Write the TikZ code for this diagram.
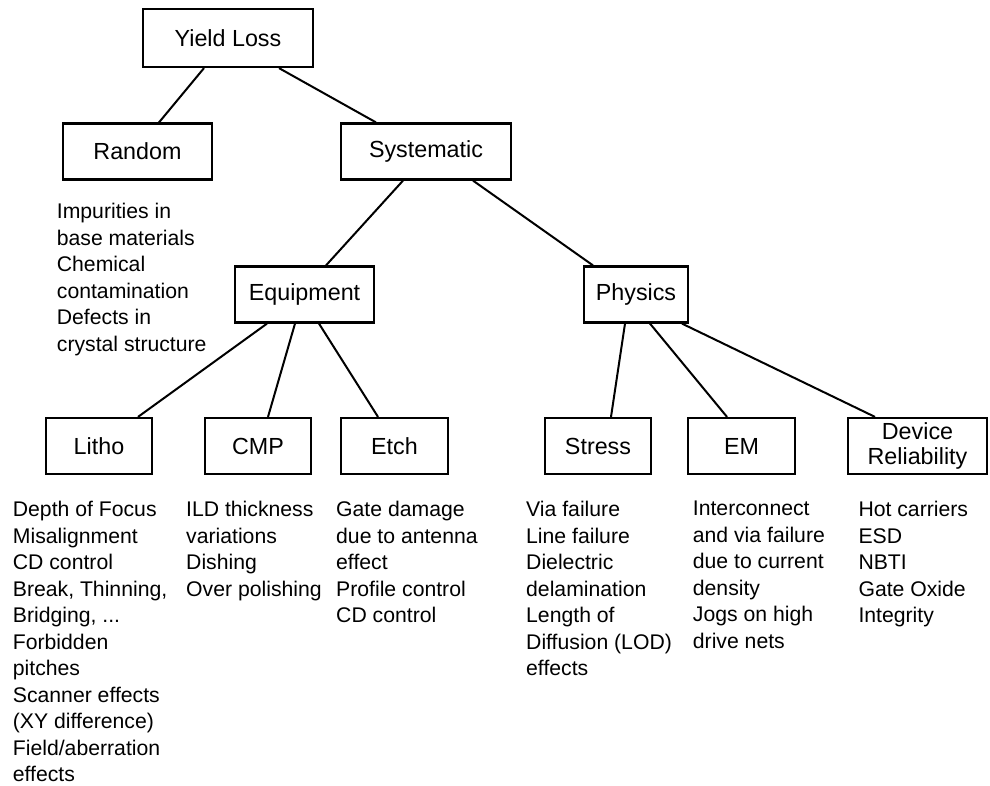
\documentclass[tikz,border=0pt]{standalone}
\usepackage{fontspec}
\setmainfont{Liberation Sans}
\begin{document}
\begin{tikzpicture}[x=1pt,y=-1pt,
  catbox/.style={draw, line width=2.2pt, minimum height=56pt, inner sep=0pt,
    align=center, font=\fontsize{23.3}{24.5}\selectfont},
  desc/.style={anchor=north west, inner sep=0pt, align=left,
    font=\fontsize{21.2}{26.5}\selectfont},
  link/.style={line width=2pt}]
\useasboundingbox (0,0) rectangle (990,785);

% category boxes
\node[catbox, minimum width=170pt, minimum height=58pt] (yl) at (228,38) {Yield Loss};
\node[catbox, minimum width=149pt] (rand) at (137.5,151.5) {Random};
\node[catbox, minimum width=170pt] (sys) at (426,151.5) {Systematic};
\node[catbox, minimum width=139pt] (equip) at (304.5,294.5) {Equipment};
\node[catbox, minimum width=104pt] (phys) at (636,294.5) {Physics};
\node[catbox, minimum width=106pt] (litho) at (99,446) {Litho};
\node[catbox, minimum width=106pt] (cmp) at (258,446) {CMP};
\node[catbox, minimum width=107pt] (etch) at (394.5,446) {Etch};
\node[catbox, minimum width=106pt] (stress) at (598,446) {Stress};
\node[catbox, minimum width=107pt] (em) at (741.5,446) {EM};
\node[catbox, minimum width=139pt] (rel) at (917.5,446) {Device\\Reliability};

% tree connectors
\draw[link] ([xshift=-24pt]yl.south) -- ([xshift=21.5pt]rand.north);
\draw[link] ([xshift=51pt]yl.south) -- ([xshift=-50pt]sys.north);
\draw[link] ([xshift=-23pt]sys.south) -- ([xshift=21.5pt]equip.north);
\draw[link] ([xshift=47pt]sys.south) -- ([xshift=-43pt]phys.north);
\draw[link] ([xshift=-37.5pt]equip.south) -- ([xshift=39pt]litho.north);
\draw[link] ([xshift=-9.5pt]equip.south) -- ([xshift=10pt]cmp.north);
\draw[link] ([xshift=14.5pt]equip.south) -- ([xshift=-16.5pt]etch.north);
\draw[link] ([xshift=-11pt]phys.south) -- ([xshift=13pt]stress.north);
\draw[link] ([xshift=14pt]phys.south) -- ([xshift=-14.5pt]em.north);
\draw[link] ([xshift=46pt]phys.south) -- ([xshift=-42.5pt]rel.north);

% cause lists
\node[desc] (randtxt) at (56.7,203) {Impurities in\\base materials\\Chemical\\contamination\\Defects in\\crystal structure};
\node[desc] (lithotxt) at (12.7,501) {Depth of Focus\\Misalignment\\CD control\\Break, Thinning,\\Bridging, ...\\Forbidden\\pitches\\Scanner effects\\(XY difference)\\Field/aberration\\effects};
\node[desc] (cmptxt) at (186,501) {ILD thickness\\variations\\Dishing\\Over polishing};
\node[desc] (etchtxt) at (336,501) {Gate damage\\due to antenna\\effect\\Profile control\\CD control};
\node[desc] (stresstxt) at (526,501) {Via failure\\Line failure\\Dielectric\\delamination\\Length of\\Diffusion (LOD)\\effects};
\node[desc] (emtxt) at (692.7,501) {Interconnect\\and via failure\\due to current\\density\\Jogs on high\\drive nets};
\node[desc] (reltxt) at (858.3,501) {Hot carriers\\ESD\\NBTI\\Gate Oxide\\Integrity};
\end{tikzpicture}
\end{document}
